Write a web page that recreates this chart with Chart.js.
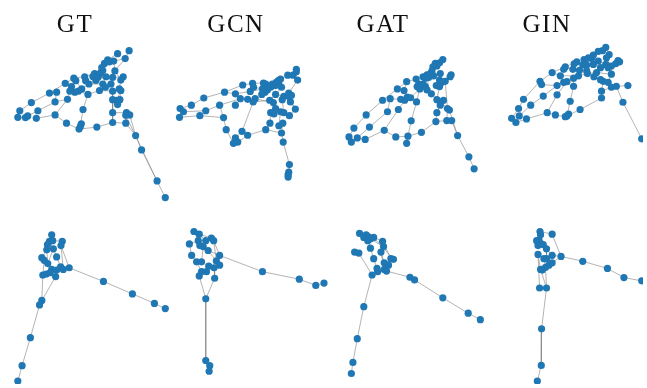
<!DOCTYPE html>
<html>
<head>
<meta charset="utf-8">
<script src="https://cdn.jsdelivr.net/npm/chart.js@4.4.1/dist/chart.umd.min.js"></script>
<style>
  html, body { margin: 0; padding: 0; background: #fff; }
  canvas { display: block; }
</style>
</head>
<body>
<canvas id="graphs" width="647" height="388"></canvas>
<script>
// model names shown above each column
const modelNames = ["GT", "GCN", "GAT", "GIN"];
const titleX = [75, 236, 383, 547];

// graph 1 layouts (top row): node positions + edges as chains of node indices
const gtTopNodes = [
    [126.7, 47.7], [115, 50.7], [122.7, 55.7], [105, 57], [101.7, 60.7], [106.7, 59], [111, 58.3], [99, 65],
    [100, 68], [96.7, 71.7], [91.7, 71], [90, 74], [95, 75], [93, 78], [98, 70], [112.3, 68.3],
    [103.3, 74.3], [110, 75], [120.7, 74.3], [118.3, 77.7], [81.7, 74.3], [82.7, 78.3], [70.7, 75.7], [72.7, 78.3],
    [62, 81], [68.3, 84.3], [86, 81.7], [100, 81.7], [102.7, 85], [96.7, 88.3], [108.3, 81.7], [116.7, 86.7],
    [118.3, 88.3], [110, 89], [78.7, 86.7], [75.3, 89], [71.7, 90], [66.7, 89], [53.3, 90], [46, 91],
    [64.3, 97.3], [85, 92.3], [110, 97.7], [114.3, 98.3], [117.3, 97.7], [115, 102.7], [27.7, 100.7], [51.7, 100],
    [16, 109], [34.3, 109], [80, 107.7], [14, 115.7], [21.7, 116], [24, 114.3], [32.7, 116.7], [51.7, 113.3],
    [110, 111], [124, 111], [127.3, 113.3], [123.3, 113.7], [63.3, 121.7], [78.3, 122.3], [77.3, 125], [76, 127.7],
    [94, 125.7], [110, 121], [123.3, 121.7], [133.3, 134.3], [139.3, 149], [155, 180.7], [163.3, 197.7]
];
const gtTopPaths = [
    [48, 46, 39, 24, 22, 20], [51, 52, 53, 49, 47, 40, 37, 36, 35, 34, 26],
    [54, 55, 60, 63, 64, 65, 66, 67, 68, 69, 70], [55, 40], [50, 62], [50, 41, 34], [41, 35],
    [42, 56, 65], [56, 57], [45, 42], [59, 66], [58, 67], [57, 59, 69],
    [0, 2, 15, 17, 30, 33, 42], [1, 3, 5, 6, 15], [4, 7, 8, 14, 9, 10, 11, 12, 13, 16, 27, 28, 29, 41],
    [18, 19, 31, 32, 43, 44, 45], [20, 21, 26, 13], [22, 23, 25, 24], [38, 39], [12, 17, 18],
    [6, 2], [27, 30], [29, 33], [32, 44], [19, 15], [10, 20], [23, 34], [26, 27], [38, 47]
];

const gcnTopNodes = [
    [296, 66.7], [296, 69.3], [292.7, 72.7], [287.3, 72.7], [297.3, 77.7], [280, 76.7], [277.7, 78.3], [275.7, 80],
    [278.3, 81.7], [281, 85], [275, 83.3], [271.7, 81.7], [270, 85], [267.7, 84.3], [265, 81.7], [262.7, 80.7],
    [251.7, 81], [241.7, 82.7], [252.7, 85], [261.7, 86.7], [266.7, 87.7], [264.3, 90], [223.3, 90], [234.3, 91.7],
    [249.3, 89.3], [261, 92.3], [275, 92.3], [288.3, 91], [291, 93.3], [287.7, 94.3], [283.3, 94.3], [281.7, 97.7],
    [202.3, 96], [239.3, 96.7], [246.7, 97.3], [254.3, 96.7], [252.3, 100], [269, 98.3], [272.7, 100.7], [290, 100],
    [189.7, 103.3], [178.3, 106.7], [181.7, 110], [218.3, 103.3], [234.3, 103.3], [204.3, 109], [275, 106.7], [295, 107.3],
    [270, 111], [273.3, 112.3], [280, 110], [283.3, 111], [177.7, 115.7], [198.3, 114], [222.3, 116], [289, 114],
    [269.3, 121.7], [282.3, 121.7], [278.3, 124.3], [225, 128.3], [241, 130], [265, 128.3], [281, 131.7], [246.7, 134],
    [234.3, 136.7], [236.7, 141], [232.3, 142.3], [282.7, 141], [289, 164], [288.3, 171.7], [287.7, 174.3], [287.7, 176.7]
];
const gcnTopPaths = [
    [41, 40, 32, 22, 17, 16, 15], [42, 45, 43, 33, 34, 36, 21], [52, 53, 54, 59, 66, 65, 63, 61, 62],
    [64, 60, 36], [61, 56, 48, 46, 37, 26], [62, 57, 58, 50, 51, 55, 47, 39], [62, 67, 68, 69, 70, 71],
    [22, 23, 24, 19], [23, 33], [0, 1, 2, 3, 5, 6, 7, 8, 9], [4, 2], [4, 27, 28, 29, 39],
    [10, 11, 12, 13, 14, 15], [16, 18, 19, 20, 21, 25], [26, 30, 31, 27], [9, 26], [37, 38, 46],
    [31, 51], [8, 12], [14, 20], [29, 47], [36, 37], [35, 38], [41, 42], [54, 43]
];

const gatTopNodes = [
    [444.3, 56.7], [441, 60], [436.7, 60.7], [438.3, 63.3], [434.3, 64.3], [431.7, 71], [428.3, 72.3], [424.3, 74.3],
    [426.7, 75.7], [430, 75], [435, 73.3], [433.3, 68.3], [441.7, 71], [452.7, 72.3], [451.7, 74.3], [441, 77.7],
    [443.3, 80], [446.7, 79], [417.3, 76.7], [407.7, 79.3], [420, 81.7], [418.3, 84.3], [421, 86.7], [424.3, 81.7],
    [426.7, 84.3], [437.7, 83.3], [441, 84.3], [398.3, 86.7], [405, 88.3], [428.3, 87.7], [432.7, 91.7], [383.3, 98.3],
    [391, 96.7], [401.7, 97.3], [405.7, 98.3], [408.3, 95], [411.7, 95.7], [417.7, 100], [438.3, 97.7], [442.3, 100],
    [445, 98.3], [441.7, 103.3], [388.3, 110], [399.3, 107.7], [449, 106.7], [451, 108.3], [366.7, 113.3], [438.3, 111],
    [448.3, 119], [453.3, 119], [412.3, 119.3], [437.3, 120], [354.3, 126.7], [370, 125.7], [385, 129], [422.7, 131],
    [459.3, 134.3], [349.3, 135.7], [351.7, 141], [357.7, 136.7], [365.7, 138.3], [396.7, 135.7], [409, 135], [407.7, 142.3],
    [470.7, 156], [476, 168.3]
];
const gatTopPaths = [
    [57, 52, 46, 31, 27, 19, 18], [58, 59, 53, 42, 32, 33], [60, 54, 43, 35, 36, 22],
    [54, 61, 62, 55, 51, 47, 41, 38], [62, 50, 37, 22], [63, 62], [51, 48, 49, 56, 64, 65], [48, 44],
    [25, 26, 38, 39], [30, 38], [29, 30], [40, 41], [0, 1, 3, 4, 11, 5, 6, 7, 8, 9, 10, 12, 15, 16, 17, 13, 14],
    [2, 4], [18, 20, 21, 22, 24, 23, 18], [19, 28, 27], [25, 16], [29, 24], [9, 29], [17, 44], [45, 56],
    [57, 58], [59, 60], [39, 44, 45]
];

const ginTopNodes = [
    [609.3, 44.3], [606, 47.7], [601.7, 48.3], [596.7, 52.3], [595, 55.7], [591.7, 55], [612.7, 51.7], [610, 55],
    [587.3, 56.7], [588.3, 60], [590, 62.3], [586, 62.3], [580, 59], [577.3, 61], [601.7, 58.3], [621.7, 57.7],
    [623.3, 59], [619.3, 61], [615, 63.3], [609.3, 61.7], [611.7, 65], [596.7, 61.7], [604, 65], [568.3, 64.3],
    [566.7, 66.7], [576, 66.7], [582.7, 67.7], [590, 68.3], [555, 70], [563.3, 73.3], [581.7, 73.3], [590.7, 71],
    [600, 70], [615, 71.7], [576.7, 75.7], [597.3, 74.3], [542.7, 79], [544.3, 82.3], [566.7, 80], [570, 79.3],
    [560, 83.3], [576.7, 84], [604, 77.3], [606.7, 79], [611.7, 80], [615, 85], [620, 84], [631.7, 83.3],
    [605, 89], [546, 94], [560, 92.7], [526, 97.3], [605, 96], [573.3, 99.3], [626.7, 100.3], [533.3, 103.3],
    [521, 106.7], [583.3, 107.7], [550, 111], [558.3, 113.3], [570, 114.3], [571.7, 112.3], [568.3, 115], [521.7, 114.3],
    [514, 116.7], [518.3, 121], [529, 117.3], [645.7, 137.7]
];
const ginTopPaths = [
    [64, 56, 51, 36, 28, 23, 12], [65, 63, 55, 49, 40, 38], [66, 58, 50, 39, 30],
    [58, 59, 62, 61, 60, 57, 52, 48, 45], [60, 53, 41, 34], [64, 65, 66], [45, 46, 47], [46, 54, 67],
    [45, 44, 43, 42], [48, 43], [0, 1, 2, 3, 4, 5, 8, 9, 10, 11, 12, 13, 25, 26, 27],
    [6, 7, 19, 14, 21, 22, 20, 18, 17, 16, 15], [24, 23, 25], [29, 28], [29, 30, 31, 32, 33, 18],
    [35, 32], [36, 37, 40], [31, 27], [42, 35], [33, 44], [22, 32], [4, 21], [7, 18], [38, 39]
];

// graph 2 layouts (bottom row)
const gtBottomNodes = [
    [48.3, 235.7], [46, 242.3], [49.3, 241.7], [44, 245.7], [59, 242.3], [57.7, 246.7], [43.3, 251], [50, 250],
    [38.3, 259], [40.7, 261.7], [44.3, 265], [53.3, 258.3], [48.3, 271], [53.3, 271.7], [57.3, 268.3], [60, 271],
    [66, 269.3], [39.3, 276.7], [42.7, 275.7], [46.7, 274.3], [52.3, 278.3], [100.7, 283.3], [130, 296], [152.3, 305.7],
    [163.3, 311], [38.3, 302.7], [36, 307.3], [26.7, 340.7], [18.3, 369.3], [14, 385]
];
const gtBottomPaths = [
    [16, 21, 22, 23, 24], [25, 26, 27, 28, 29], [25, 17, 9, 8, 6, 3], [25, 20, 13, 14], [0, 2, 4, 5, 16],
    [0, 1, 3], [1, 7, 11, 14], [5, 15, 16], [6, 10, 12, 19, 18, 17], [12, 13], [7, 10], [19, 20], [15, 14]
];

const gcnBottomNodes = [
    [192.3, 232.3], [197.7, 235], [210, 239], [212.3, 241.7], [204.3, 241.7], [196.7, 241.7], [187.7, 245], [198.3, 246.7],
    [201.7, 247.7], [206.7, 251.7], [218.3, 256.7], [190, 256.7], [215, 262.3], [218.3, 266.7], [195, 263.3], [200, 263.3],
    [207.3, 267.7], [212.7, 269.3], [200, 273.3], [205, 273.3], [197.7, 277.7], [213.3, 280], [204.3, 301], [261.7, 273.3],
    [299, 281], [315.7, 287.3], [324, 285], [204.3, 364], [208.3, 369.3], [207.7, 375]
];
const gcnBottomPaths = [
    [10, 23, 24, 25, 26], [22, 27, 28, 29], [20, 22, 21], [0, 1, 2, 3, 10], [0, 5, 6, 11, 14, 18, 20],
    [4, 5, 7, 8, 9, 12, 13], [3, 12, 17, 21], [1, 4], [15, 16, 17], [14, 15], [18, 19, 16], [9, 10], [8, 15]
];

const gatBottomNodes = [
    [360, 234.3], [366.7, 235.7], [369, 237.7], [364.3, 238.3], [371, 240], [374.3, 238.3], [368.3, 241.7], [383.3, 242.3],
    [384.3, 247.7], [371, 249.3], [381.7, 253.3], [355, 253.3], [359.3, 254.3], [374.3, 260], [391.7, 260], [394.3, 260.7],
    [385, 264.3], [389.3, 266.7], [377.7, 270], [378.3, 273.3], [385, 271], [387.3, 272.7], [372.7, 276.7], [411, 279],
    [415.7, 281.7], [444.3, 300], [470, 315.7], [482.3, 322.3], [364.3, 309], [357.7, 341.7], [353.3, 366], [351.7, 377.3]
];
const gatBottomPaths = [
    [21, 23, 24, 25, 26, 27], [22, 28, 29, 30, 31], [11, 12, 22],
    [0, 1, 3, 6, 2, 4, 5, 7, 8, 10, 16, 17, 14, 15], [5, 15], [2, 9, 13, 18, 19], [7, 14],
    [22, 18, 20, 21, 16], [19, 22], [10, 20], [4, 8]
];

const ginBottomNodes = [
    [542.7, 232.3], [543.3, 235.7], [555, 235], [539.3, 241.7], [541.7, 241], [543.3, 244.3], [540.7, 246.7], [546, 245.7],
    [549.3, 250], [540.7, 255.7], [555, 256.7], [564, 257.7], [546.7, 260], [549.3, 260], [555, 264.3], [551.7, 266.7],
    [548.3, 269], [543.3, 271], [545, 271.7], [586, 262.7], [611, 270], [627.7, 279.3], [645.7, 282.7], [542.3, 290],
    [549.3, 290], [544.3, 331.7], [544, 369], [540, 385]
];
const ginBottomPaths = [
    [11, 19, 20, 21, 22], [24, 25, 26, 27], [0, 2, 11], [0, 1, 4, 3, 6, 5, 7, 8, 13, 12, 9],
    [9, 17, 24], [9, 23], [16, 24], [11, 14, 15, 16, 18, 17], [10, 11], [8, 10], [13, 14], [12, 16]
];

const panels = [
    [gtTopNodes, gtTopPaths], [gcnTopNodes, gcnTopPaths], [gatTopNodes, gatTopPaths], [ginTopNodes, ginTopPaths],
    [gtBottomNodes, gtBottomPaths], [gcnBottomNodes, gcnBottomPaths], [gatBottomNodes, gatBottomPaths], [ginBottomNodes, ginBottomPaths]
];

const nodeColor = "#1f77b4";
const edgeColor = "rgba(120,120,120,0.7)";

const datasets = [];
panels.forEach(([nodes, paths]) => {
    paths.forEach((p) => {
        datasets.push({
            type: "line",
            data: p.map((i) => ({ x: nodes[i][0], y: nodes[i][1] })),
            borderColor: edgeColor,
            borderWidth: 0.8,
            pointRadius: 0,
            fill: false,
            tension: 0,
            order: 2,
        });
    });
    datasets.push({
        type: "scatter",
        data: nodes.map((n) => ({ x: n[0], y: n[1] })),
        backgroundColor: nodeColor,
        borderColor: nodeColor,
        borderWidth: 0,
        pointRadius: 3.6,
        order: 1,
    });
});

// column titles in a serif face
const titlePlugin = {
    id: "titlePlugin",
    afterDraw: (chart) => {
        const ctx = chart.ctx;
        ctx.save();
        ctx.fillStyle = "#111";
        ctx.font = "25px 'Liberation Serif'";
        ctx.letterSpacing = "1.5px";
        ctx.textAlign = "center";
        ctx.textBaseline = "alphabetic";
        modelNames.forEach((name, i) => ctx.fillText(name, titleX[i], 32));
        ctx.restore();
    },
};

new Chart(document.getElementById("graphs").getContext("2d"), {
    type: "scatter",
    data: { datasets: datasets },
    options: {
        responsive: false,
        animation: false,
        layout: { padding: 0 },
        plugins: {
            legend: { display: false },
            tooltip: { enabled: false },
        },
        scales: {
            x: { type: "linear", min: 0, max: 647, display: false },
            y: { type: "linear", min: 0, max: 388, reverse: true, display: false },
        },
    },
    plugins: [titlePlugin],
});
</script>
</body>
</html>
